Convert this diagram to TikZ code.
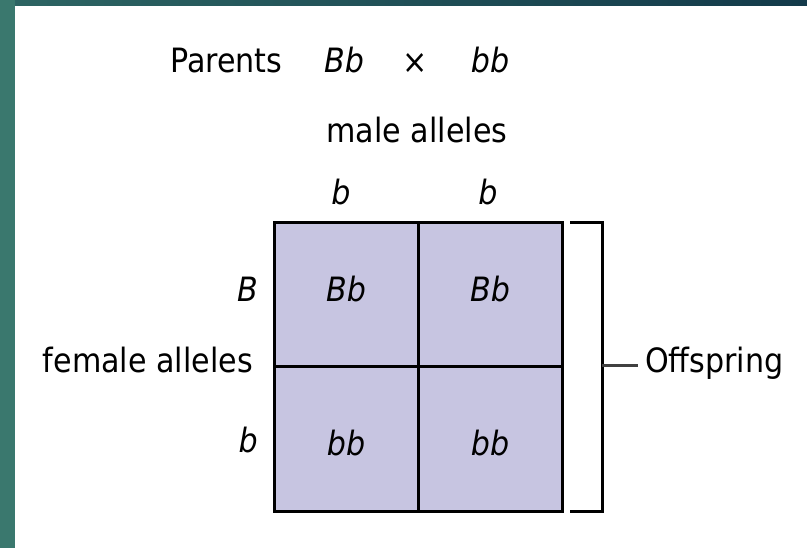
\documentclass[tikz,border=0pt]{standalone}
\usepackage{fontspec}
\setmainfont{DejaVu Sans}[FakeStretch=0.9]
\definecolor{cellfill}{HTML}{C7C5E1}
\definecolor{frameteal}{HTML}{3A786E}
\definecolor{topteal}{HTML}{2D6563}
\definecolor{topdark}{HTML}{133A4A}
\definecolor{tickgray}{HTML}{404040}

\begin{document}
\begin{tikzpicture}[x=1pt,y=-1pt,
  lbl/.style={font=\fontsize{33.5}{40}\selectfont, inner sep=0pt},
  gene/.style={font=\fontsize{33.5}{40}\selectfont\itshape, inner sep=0pt},
  cell/.style={draw=black, line width=3pt, fill=cellfill, minimum size=144pt, inner sep=0pt},
  bracket/.style={draw=black, line width=3pt},
  tick/.style={draw=tickgray, line width=3pt}]

% page and frame bands
\useasboundingbox (0,0) rectangle (807,548);
\fill[white] (0,0) rectangle (807,548);
\shade[left color=topteal, right color=topdark] (0,0) rectangle (807,6);
\fill[frameteal] (0,0) rectangle (15,548);

% cross
\node[lbl, anchor=base west] (parents) at (170,73) {Parents};
\node[gene, anchor=base] (p1) at (344,73) {Bb};
\node[lbl, anchor=center] (cross) at (415.5,64) {×};
\node[gene, anchor=base] (p2) at (490,73) {bb};

% male gametes
\node[lbl, anchor=base] (male) at (417,143) {male alleles};
\node[gene, anchor=base] (m1) at (341,205) {b};
\node[gene, anchor=base] (m2) at (488,205) {b};

% Punnett square
\node[cell] (c11) at (346,295) {};
\node[cell] (c12) at (490,295) {};
\node[cell] (c21) at (346,439) {};
\node[cell] (c22) at (490,439) {};
\node[gene, anchor=base] (g11) at (346,302) {Bb};
\node[gene, anchor=base] (g12) at (490,302) {Bb};
\node[gene, anchor=base] (g21) at (346,455) {bb};
\node[gene, anchor=base] (g22) at (490,455) {bb};

% female gametes
\node[gene, anchor=base east] (f1) at (258,302) {B};
\node[lbl, anchor=base east] (female) at (253,373) {female alleles};
\node[gene, anchor=base east] (f2) at (258,453) {b};

% offspring bracket
\draw[bracket] (570,223) -- (602,223) -- (602,511) -- (570,511);
\coordinate (brk) at (602,366);
\node[lbl, anchor=base west] (off) at (645,373) {Offspring};
\draw[tick, shorten >=7pt] (brk) -- (brk -| off.west);
\end{tikzpicture}
\end{document}
